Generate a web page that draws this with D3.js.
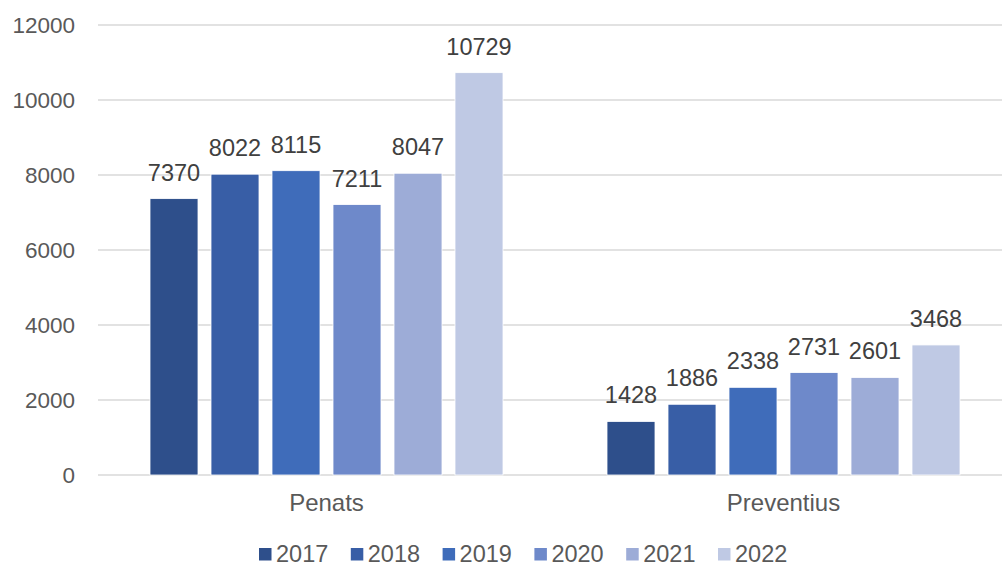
<!DOCTYPE html>
<html><head><meta charset="utf-8">
<script src="https://cdn.jsdelivr.net/npm/d3@7"></script>
<style>body{margin:0;background:#fff}svg{display:block;font-family:"Liberation Sans",Arial,sans-serif}</style>
</head><body><svg id="c" width="1002" height="564"></svg>
<script>
const categories = ["Penats", "Preventius"];
const years = ["2017", "2018", "2019", "2020", "2021", "2022"];
const v2017 = [7370, 1428];
const v2018 = [8022, 1886];
const v2019 = [8115, 2338];
const v2020 = [7211, 2731];
const v2021 = [8047, 2601];
const v2022 = [10729, 3468];
const yTicks = [0, 2000, 4000, 6000, 8000, 10000, 12000];
const colors = ["#2E4F8B", "#385EA6", "#3F6CBA", "#6E89CA", "#9DACD7", "#BFC9E4"];
const series = [v2017, v2018, v2019, v2020, v2021, v2022];

(function () {
const svg = d3.select("#c");
const pL = 98, pR = 1012, pT = 25, pB = 475;
const y = d3.scaleLinear().domain([0, 12000]).range([pB, pT]);
const x0 = d3.scaleBand().domain(categories).range([pL, pR]).paddingInner(0).paddingOuter(0);
const groupW = 353;
const x1 = d3.scaleBand().domain(years).range([0, groupW]).paddingInner(13/61).paddingOuter(0);

svg.append("g").selectAll("line").data(yTicks).join("line")
  .attr("x1", pL).attr("x2", pR)
  .attr("y1", d => y(d)).attr("y2", d => y(d))
  .attr("stroke", "#d9d9d9").attr("stroke-width", 1.3);

svg.append("g").selectAll("text").data(yTicks).join("text")
  .attr("x", 75).attr("y", d => y(d)).attr("dy", "0.36em")
  .attr("text-anchor", "end").attr("font-size", 22.5).attr("fill", "#595959")
  .text(d => d);

const g = svg.append("g");
categories.forEach((c, ci) => {
  const gx = x0(c) + (x0.bandwidth() - groupW) / 2;
  years.forEach((yr, si) => {
    const v = series[si][ci];
    g.append("rect")
      .attr("x", gx + x1(yr)).attr("width", x1.bandwidth())
      .attr("y", y(v)).attr("height", y(0) - y(v))
      .attr("fill", colors[si]).attr("stroke", "#fff").attr("stroke-width", 0.8);
    g.append("text")
      .attr("x", gx + x1(yr) + x1.bandwidth() / 2).attr("y", y(v) - 18)
      .attr("text-anchor", "middle").attr("font-size", 23.5).attr("fill", "#404040")
      .text(v);
  });
});

svg.append("g").selectAll("text").data(categories).join("text")
  .attr("x", d => x0(d) + x0.bandwidth() / 2).attr("y", 511)
  .attr("text-anchor", "middle").attr("font-size", 24).attr("fill", "#595959")
  .text(d => d);

const lg = svg.append("g");
years.forEach((yr, i) => {
  const lx = 259 + i * 91.8;
  lg.append("rect").attr("x", lx).attr("y", 548).attr("width", 12.5).attr("height", 12.5).attr("fill", colors[i]);
  lg.append("text").attr("x", lx + 17).attr("y", 562).attr("font-size", 23.5).attr("fill", "#595959").text(yr);
});
})();
</script></body></html>
